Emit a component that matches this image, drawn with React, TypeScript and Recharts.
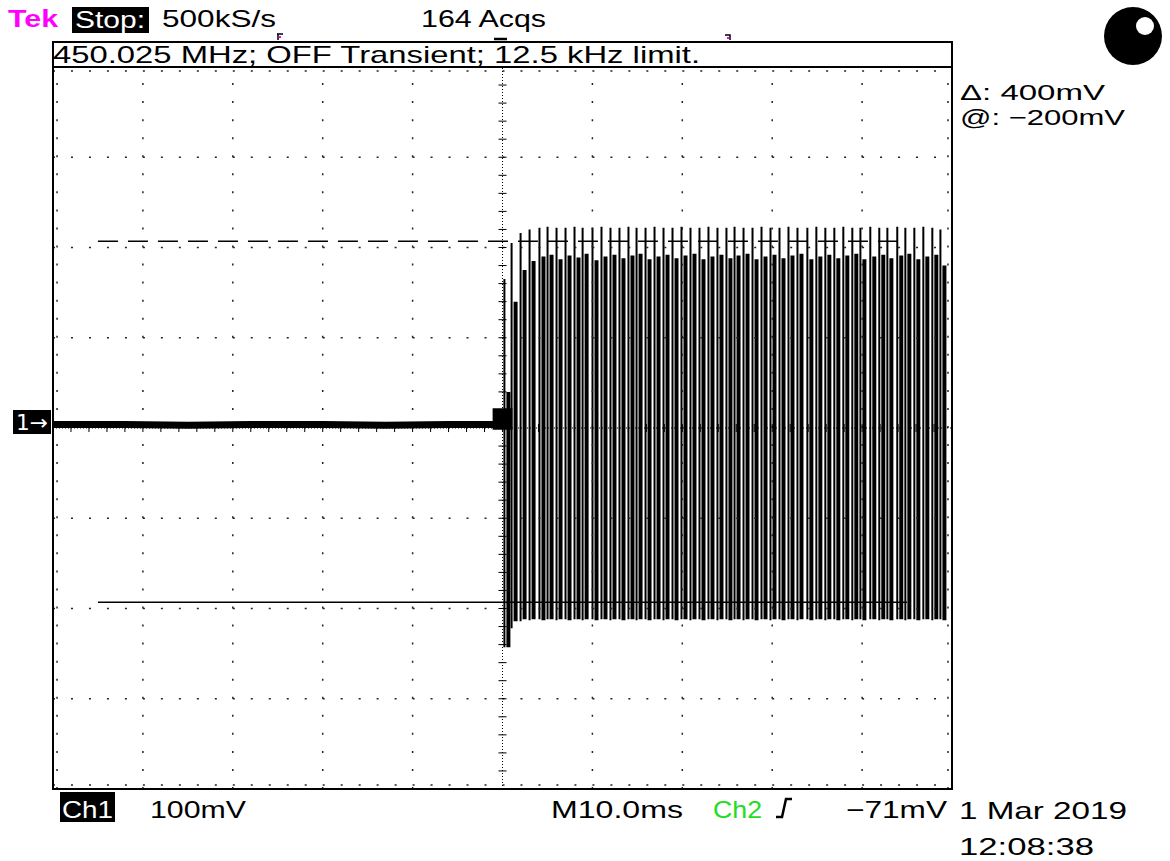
import React from 'react'
import { Bar, ComposedChart, Line, ReferenceArea, ReferenceLine, XAxis, YAxis } from 'recharts'

// burst cycles (10 ms/div, 100 mV/div, ground at centre)
const burstMs = [50.5, 51.3, 52.3, 53.3, 54.4, 55.3, 56.3, 57.3, 58.3, 59.2, 60.3, 61.3, 62.3, 63.3, 64.3, 65.2, 66.2, 67.2, 68.2, 69.2, 70.2, 71.2, 72.2, 73.2, 74.2, 75.2, 76.1, 77.1, 78.1, 79.1, 80.1, 81.1, 82.1, 83.1, 84.2, 85.2, 86.2, 87.2, 88.2, 89.2, 90.1, 91.2, 92.2, 93.1, 94.2, 95.1, 96.1, 97.1, 98.1, 99.0]
const edgeHigh = [165, 205, 216, 220, 222, 223, 222, 222, 223, 222, 222, 223, 222, 222, 223, 222, 222, 223, 222, 222, 223, 222, 222, 223, 222, 222, 223, 222, 222, 223, 222, 222, 223, 222, 222, 223, 222, 222, 223, 222, 222, 223, 222, 222, 223, 222, 222, 223, 222, 220]
const edgeLow = [-243, -222, -214, -213, -212, -212, -213, -212, -212, -213, -212, -212, -213, -212, -212, -213, -212, -212, -213, -212, -212, -213, -212, -212, -213, -212, -212, -213, -212, -212, -213, -212, -212, -213, -212, -212, -213, -212, -212, -213, -212, -212, -213, -212, -212, -213, -212, -212, -213, -212]
const bodyHigh = [40, 140, 175, 185, 190, 192, 187, 191, 189, 193, 186, 190, 192, 188, 191, 193, 187, 190, 192, 188, 191, 193, 187, 190, 192, 188, 191, 193, 187, 190, 192, 188, 191, 193, 187, 190, 192, 188, 191, 193, 187, 190, 192, 188, 191, 193, 187, 190, 192, 180]
const bodyLow = [-243, -214, -212, -212, -213, -212, -212, -213, -212, -212, -213, -212, -212, -213, -212, -212, -213, -212, -212, -213, -212, -212, -213, -212, -212, -213, -212, -212, -213, -212, -212, -213, -212, -212, -213, -212, -212, -213, -212, -212, -213, -212, -212, -213, -212, -212, -213, -212, -212, -213]

// quiet trace before the burst
const baselineMs = [0, 8, 15, 22, 30, 37, 44, 49.5]
const baselineMv = [4, 4, 3, 4, 4, 3, 4, 4]

// cursors
const cursorTopMv = 207
const cursorBottomMv = -193
const cursorFromMs = 5
const cursorToMs = 95

const timeTicks = [0, 10, 20, 30, 40, 50, 60, 70, 80, 90, 100]
const voltTicks = [-400, -300, -200, -100, 0, 100, 200, 300, 400]

const W = 1170
const H = 861
const PL = 53
const PT = 67
const PR = 952
const PB = 789

const burstData = burstMs.map((t, i) => ({
  t,
  edge: [edgeLow[i], edgeHigh[i]],
  body: [bodyLow[i], bodyHigh[i]],
}))
const baselineData = baselineMs.map((t, i) => ({ t, v: baselineMv[i] }))

const minorMs = Array.from({ length: 51 }, (_, i) => i * 2)
const minorMv = Array.from({ length: 41 }, (_, i) => -400 + i * 20)

const font = '"Liberation Sans", Arial, sans-serif'

const T = ({ x, y, w, children, fill = '#000', size = 24, weight = 400 }: any) => (
  <text x={x} y={y} textLength={w} lengthAdjust="spacingAndGlyphs" fill={fill}
    fontSize={size} fontFamily={font} fontWeight={weight}>
    {children}
  </text>
)

const App = () => {
  return (
    <div style={{ position: 'fixed', left: 0, top: 0, width: W, height: H, background: '#fff' }}>
      <div style={{ position: 'absolute', left: 0, top: 0 }}>
        <ComposedChart width={W} height={H} data={burstData} barGap={1}
          margin={{ top: PT, left: PL, right: W - PR, bottom: H - PB }}>
          <XAxis dataKey="t" type="number" domain={[0, 100]} ticks={timeTicks} allowDataOverflow hide />
          <YAxis type="number" domain={[-400, 400]} ticks={voltTicks} allowDataOverflow hide />

          {timeTicks.filter(t => t > 0 && t < 100 && t !== 50).map(t => (
            <ReferenceLine key={'vx' + t} x={t} stroke="#222" strokeWidth={1.5} strokeDasharray="2 16.05" />
          ))}
          {voltTicks.filter(v => v > -400 && v < 400 && v !== 0).map(v => (
            <ReferenceLine key={'hy' + v} y={v} stroke="#222" strokeWidth={1.5} strokeDasharray="2 15.98" />
          ))}
          <ReferenceLine y={395.5} stroke="#222" strokeWidth={1.5} strokeDasharray="2 15.98" />
          <ReferenceLine y={-395.5} stroke="#222" strokeWidth={1.5} strokeDasharray="2 15.98" />
          <ReferenceLine x={0.45} stroke="#222" strokeWidth={1.5} strokeDasharray="2 16.05" />
          <ReferenceLine x={99.55} stroke="#222" strokeWidth={1.5} strokeDasharray="2 16.05" />

          <ReferenceLine x={50} stroke="#000" strokeWidth={1} strokeDasharray="1 2" />
          <ReferenceLine y={0} stroke="#000" strokeWidth={1} strokeDasharray="1 2" />
          {minorMv.map(v => (
            <ReferenceLine key={'cy' + v} segment={[{ x: 49.55, y: v }, { x: 50.45, y: v }]} stroke="#000" strokeWidth={1} />
          ))}
          {minorMs.map(t => (
            <ReferenceLine key={'cx' + t} segment={[{ x: t, y: -4.5 }, { x: t, y: 4.5 }]} stroke="#000" strokeWidth={1} />
          ))}

          <Bar dataKey="edge" barSize={2} fill="#000" isAnimationActive={false} />
          <Bar dataKey="body" barSize={4} fill="#000" isAnimationActive={false} />
          <Line data={baselineData} dataKey="v" type="linear" dot={false} stroke="#000" strokeWidth={7} isAnimationActive={false} />
          <ReferenceArea x1={48.9} x2={51.1} y1={-2} y2={22} fill="#000" fillOpacity={1} stroke="none" />

          <ReferenceLine segment={[{ x: cursorFromMs, y: cursorTopMv }, { x: cursorToMs, y: cursorTopMv }]}
            stroke="#000" strokeWidth={1.5} strokeDasharray="20 10" />
          <ReferenceLine segment={[{ x: cursorFromMs, y: cursorBottomMv }, { x: cursorToMs, y: cursorBottomMv }]}
            stroke="#000" strokeWidth={1.5} />
        </ComposedChart>
      </div>

      <svg width={W} height={H} style={{ position: 'absolute', left: 0, top: 0, pointerEvents: 'none' }}>
        <rect x={PL} y={42} width={PR - PL} height={PT - 42} fill="none" stroke="#000" strokeWidth={2} />
        <rect x={PL} y={PT} width={PR - PL} height={PB - PT} fill="none" stroke="#000" strokeWidth={2} />

        <T x={8} y={27} w={50} fill="#ff00ff" weight={700}>Tek</T>
        <rect x={72} y={7} width={77} height={26} fill="#000" />
        <T x={75} y={28} w={70} fill="#fff">Stop:</T>
        <T x={162} y={27} w={114}>500kS/s</T>
        <T x={421} y={27} w={125}>164 Acqs</T>

        <path d="M277 34 H283 M278 34 V40" stroke="#000" strokeWidth={1.5} fill="none" />
        <rect x={279} y={36} width={2} height={2} fill="#ff00ff" />
        <path d="M725 35 H730 V40" stroke="#000" strokeWidth={1.5} fill="none" />
        <rect x={727} y={37} width={2} height={2} fill="#ff00ff" />

        <T x={53} y={63} w={647}>450.025 MHz; OFF Transient; 12.5 kHz limit.</T>
        <path d="M494 39 H507" stroke="#000" strokeWidth={2.5} />

        <circle cx={1133} cy={36} r={29} fill="#000" />
        <circle cx={1145} cy={26} r={9} fill="#fff" />

        <T x={960} y={100} w={145} size={22}>Δ: 400mV</T>
        <T x={960} y={125} w={165} size={22}>@: −200mV</T>

        <rect x={13} y={410} width={38} height={24} fill="#000" />
        <text x={16} y={430} fill="#fff" fontSize={21} fontFamily="DejaVu Sans" textLength={32} lengthAdjust="spacingAndGlyphs">1→</text>

        <rect x={60} y={792} width={55} height={30} fill="#000" />
        <T x={62} y={818} w={51} fill="#fff">Ch1</T>
        <T x={150} y={818} w={96}>100mV</T>
        <T x={551} y={818} w={132}>M10.0ms</T>
        <T x={713} y={818} w={49} fill="#22dd22">Ch2</T>
        <path d="M776 817 H782 L786 799 H792" stroke="#000" strokeWidth={2.5} fill="none" />
        <T x={846} y={818} w={101}>−71mV</T>
        <T x={959} y={819} w={168}>1 Mar 2019</T>
        <T x={959} y={855} w={135}>12:08:38</T>
      </svg>
    </div>
  )
}

export default App
